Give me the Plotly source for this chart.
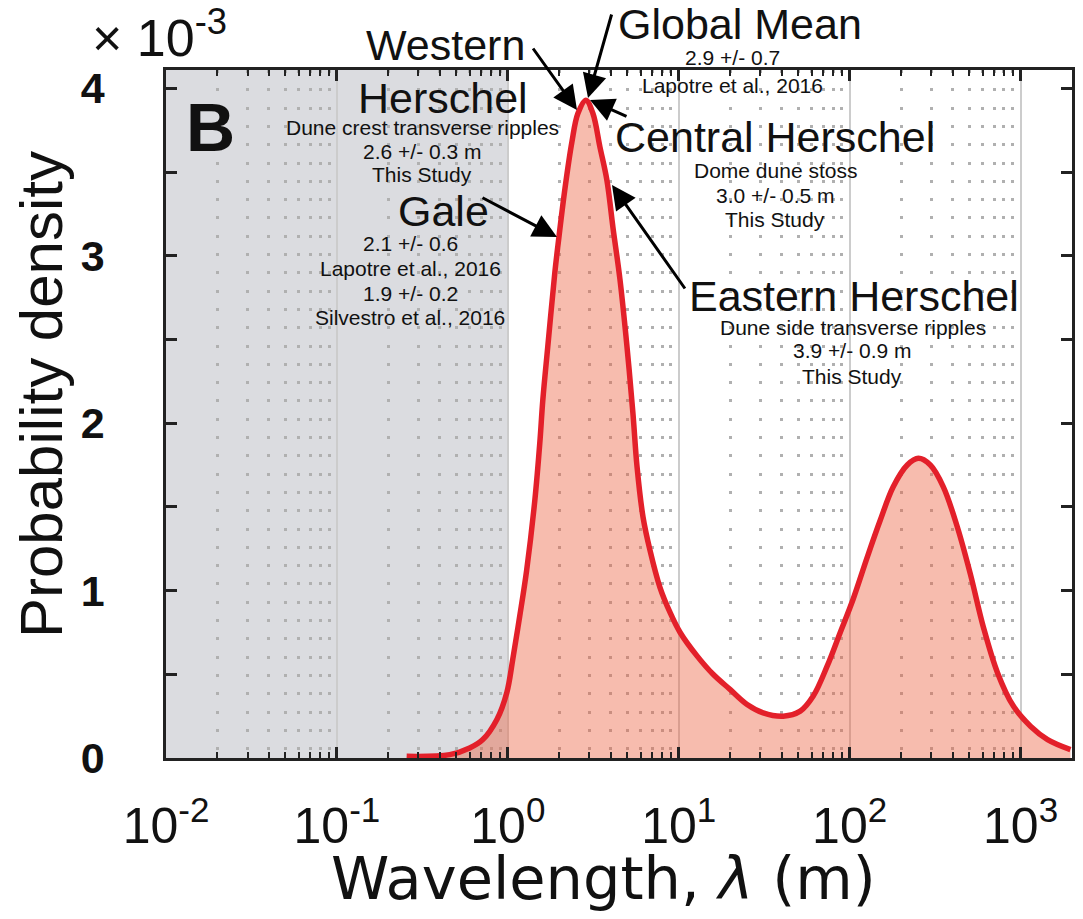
import plotly.graph_objects as go

# ---------------- data ----------------
wavelength_m = [0.256, 0.457, 0.598, 0.714, 0.863, 0.986, 1.069, 1.175, 1.288, 1.439,
                1.538, 1.603, 1.714, 1.884, 1.963, 2.158, 2.371, 2.570, 2.864, 3.148,
                3.459, 3.802, 4.121, 4.529, 4.977, 5.395, 5.702, 6.180, 6.792, 7.762,
                8.892, 10.19, 12.79, 15.89, 19.95, 25.12, 31.19, 40.83, 51.40, 61.24,
                73.96, 88.10, 104.9, 126.8, 151.0, 179.9, 217.3, 252.4, 296.5, 353.2,
                426.6, 508.2, 606.7, 732.8, 907.8, 1143.0, 1439.0, 1959.0]
density_e3 = [0.01, 0.02, 0.06, 0.11, 0.23, 0.39, 0.59, 0.85, 1.12, 1.54,
              1.88, 2.14, 2.46, 2.90, 3.06, 3.40, 3.68, 3.85, 3.93, 3.85,
              3.65, 3.45, 3.17, 2.86, 2.46, 2.06, 1.74, 1.44, 1.24, 1.02,
              0.87, 0.75, 0.61, 0.50, 0.41, 0.32, 0.27, 0.25, 0.28, 0.37,
              0.55, 0.75, 0.95, 1.20, 1.42, 1.62, 1.75, 1.79, 1.75, 1.62,
              1.38, 1.10, 0.78, 0.51, 0.31, 0.19, 0.11, 0.05]

gray_region_m = [0.01, 1.0]

x_tickvals = [0.01, 0.1, 1, 10, 100, 1000]
x_ticktext = ["10<sup>-2</sup>", "10<sup>-1</sup>", "10<sup>0</sup>",
              "10<sup>1</sup>", "10<sup>2</sup>", "10<sup>3</sup>"]
x_minor = [m * 10.0 ** e for e in range(-2, 4) for m in range(2, 10)]
y_tickvals = [0, 0.5, 1, 1.5, 2, 2.5, 3, 3.5, 4]
y_ticktext = ["0", "", "1", "", "2", "", "3", "", "4"]

# ---------------- layout geometry ----------------
W, H = 1083, 919
L, R, T, B = 166, 11, 70, 161
PW, PH = W - L - R, H - T - B
FONT = "Liberation Sans"
GRAY = "#dbdce0"


def P(px, py):
    return (px - L) / PW, (H - B - py) / PH


fig = go.Figure()
fig.add_trace(go.Scatter(
    x=wavelength_m, y=density_e3, mode="lines",
    line=dict(color="#e3202a", width=5.5, shape="spline"),
    fill="tozeroy", fillcolor="rgba(236,96,62,0.42)",
    hoverinfo="skip", showlegend=False))

shapes = []
# gray (pre-existing range) region
shapes.append(dict(type="rect", xref="x", yref="paper",
                   x0=gray_region_m[0], x1=gray_region_m[1], y0=0, y1=1,
                   fillcolor=GRAY, line=dict(width=0), layer="below"))
# boxes behind text that hide the grid
for (x0, x1, y0, y1, col) in [
    (683, 1072, 70, 400, "white"),
    (612, 690, 108, 157, "white"),
    (640, 690, 70, 100, "white"),
    (335, 505, 70, 330, GRAY),
    (292, 335, 98, 190, GRAY),
    (322, 335, 228, 322, GRAY),
]:
    a0, b0 = P(x0, y1)
    a1, b1 = P(x1, y0)
    shapes.append(dict(type="rect", xref="paper", yref="paper", x0=a0, x1=a1, y0=b0, y1=b1,
                       fillcolor=col, line=dict(width=0), layer="between"))

ann = []


def text(s, px, py, size, bold=False, anchor="center", angle=0, family=FONT):
    x, y = P(px, py)
    ann.append(dict(text=s, x=x, y=y, xref="paper", yref="paper", showarrow=False,
                    xanchor=anchor, yanchor="middle", textangle=angle,
                    font=dict(family=family, size=size, color="#111",
                              weight="bold" if bold else "normal")))


def arrow(tip, tail):
    x, y = P(*tip)
    ann.append(dict(text="", x=x, y=y, xref="paper", yref="paper", showarrow=True,
                    ax=tail[0] - tip[0], ay=tail[1] - tip[1], arrowhead=2,
                    arrowsize=1.6, arrowwidth=3, arrowcolor="#000", standoff=0))


BIG, SMALL = 43, 21
text("Western", 445, 45, BIG)
text("Herschel", 443, 98, BIG)
text("Dune crest transverse ripples", 422, 127, SMALL)
text("2.6 +/- 0.3 m", 422, 151, SMALL)
text("This Study", 422, 174, SMALL)
text("Gale", 443, 211, BIG)
text("2.1 +/- 0.6", 410, 243, SMALL)
text("Lapotre et al., 2016", 410, 268, SMALL)
text("1.9 +/- 0.2", 410, 293, SMALL)
text("Silvestro et al., 2016", 410, 317, SMALL)
text("Global Mean", 740, 24, BIG)
text("2.9 +/- 0.7", 732, 58, SMALL)
text("Lapotre et al., 2016", 732, 85, SMALL)
text("Central Herschel", 775, 137, BIG)
text("Dome dune stoss", 775, 170, SMALL)
text("3.0 +/- 0.5 m", 775, 195, SMALL)
text("This Study", 775, 219, SMALL)
text("Eastern Herschel", 854, 296, BIG)
text("Dune side transverse ripples", 853, 327, SMALL)
text("3.9 +/- 0.9 m", 852, 351, SMALL)
text("This Study", 852, 376, SMALL)
text("B", 210, 127, 68, bold=True)
text("× 10<sup>-3</sup>", 90, 34, 52, anchor="left")
text("Probability density", 42, 395, 60, angle=-90)
text("Wavelength, <i>λ</i> (m)", 603, 878, 59, family="DejaVu Sans")

arrow((577, 110), (532, 47))
arrow((588, 98), (612, 13))
arrow((590, 100), (628, 117))
arrow((557, 237), (481, 197))
arrow((612, 185), (686, 290))

fig.update_layout(
    width=W, height=H, margin=dict(l=L, r=R, t=T, b=B, autoexpand=False),
    paper_bgcolor="white", plot_bgcolor="white",
    shapes=shapes, annotations=ann, showlegend=False,
    xaxis=dict(type="log", range=[-2, 3.301], tickmode="array", tickvals=x_tickvals,
               ticktext=x_ticktext, ticks="inside", ticklen=11, tickwidth=2.5,
               tickcolor="#222", showline=True, linewidth=2.5, linecolor="#222",
               mirror="ticks", showgrid=True, gridcolor="#cccccc", gridwidth=2,
               ticklabelstandoff=22, automargin=False,
               tickfont=dict(family=FONT, size=50, color="#111"),
               minor=dict(tickmode="array", tickvals=x_minor, ticks="inside", ticklen=6,
                          tickwidth=2, tickcolor="#222", showgrid=True,
                          gridcolor="#b0b0b0", gridwidth=3, griddash="3px,15.3px")),
    yaxis=dict(range=[0, 4.11], tickmode="array", tickvals=y_tickvals, ticktext=y_ticktext,
               ticks="inside", ticklen=11, tickwidth=2.5, tickcolor="#222",
               showline=True, linewidth=2.5, linecolor="#222", mirror="ticks",
               showgrid=False, zeroline=False, ticklabelstandoff=50, automargin=False,
               tickfont=dict(family=FONT, size=43, color="#111", weight="bold")),
)

fig.write_html("out.html", config={"displayModeBar": False},
               post_script="document.body.style.margin='0';")
